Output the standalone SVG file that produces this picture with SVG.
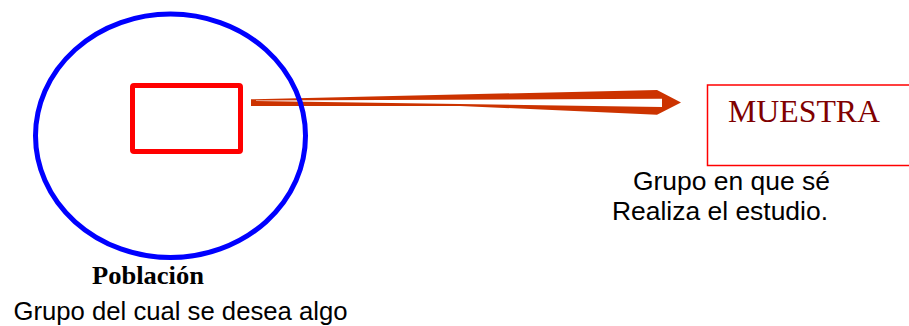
<svg xmlns="http://www.w3.org/2000/svg" width="909" height="326" viewBox="0 0 909 326">
<style>
.sans{font-family:"Liberation Sans",Arial,sans-serif;font-size:26px;fill:#000}
.serif{font-family:"Liberation Serif","Times New Roman",serif}
</style>
<rect width="909" height="326" fill="#fff"/>
<g id="connectors">
<polygon points="251,99.3 657,90 681,102.5 657,114.7 460,106 251,106" fill="#cc3300"/>
<polygon points="256,100.5 662,98.8 662,107 256,100.9" fill="#fff"/>
</g>
<g id="poblacion">
<ellipse cx="170.5" cy="135.8" rx="135" ry="121.7" fill="none" stroke="#0000ff" stroke-width="5"/>
<text class="serif" x="92" y="284" font-size="26" font-weight="bold" textLength="112" lengthAdjust="spacingAndGlyphs">Población</text>
<text class="sans" x="13.5" y="319.5" textLength="334" lengthAdjust="spacingAndGlyphs">Grupo del cual se desea algo</text>
</g>
<g id="subgrupo">
<rect x="132.5" y="85.5" width="108" height="66" rx="1.5" fill="none" stroke="#ff0000" stroke-width="5"/>
</g>
<g id="muestra">
<rect x="707.5" y="85" width="260" height="80.5" fill="none" stroke="#ff0000" stroke-width="1.5"/>
<text class="serif" x="728" y="122" font-size="32" fill="#800000" textLength="152" lengthAdjust="spacingAndGlyphs">MUESTRA</text>
<text class="sans" x="633" y="190" textLength="197" lengthAdjust="spacingAndGlyphs">Grupo en que sé</text>
<text class="sans" x="612" y="220" textLength="216" lengthAdjust="spacingAndGlyphs">Realiza el estudio.</text>
</g>
</svg>
